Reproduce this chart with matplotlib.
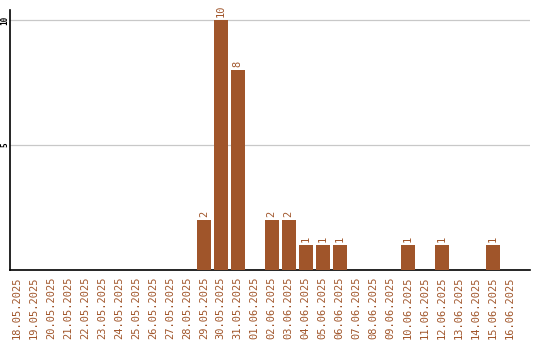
import matplotlib
matplotlib.use("Agg")
import matplotlib.pyplot as plt
import numpy as np

# Daily counts, 18.05.2025 - 16.06.2025
dates = [
    "18.05.2025", "19.05.2025", "20.05.2025", "21.05.2025", "22.05.2025",
    "23.05.2025", "24.05.2025", "25.05.2025", "26.05.2025", "27.05.2025",
    "28.05.2025", "29.05.2025", "30.05.2025", "31.05.2025", "01.06.2025",
    "02.06.2025", "03.06.2025", "04.06.2025", "05.06.2025", "06.06.2025",
    "07.06.2025", "08.06.2025", "09.06.2025", "10.06.2025", "11.06.2025",
    "12.06.2025", "13.06.2025", "14.06.2025", "15.06.2025", "16.06.2025",
]
counts = [0, 0, 0, 0, 0, 0, 0, 0, 0, 0, 0, 2, 10, 8, 0,
          2, 2, 1, 1, 1, 0, 0, 0, 1, 0, 1, 0, 0, 1, 0]
y_ticks = [5, 10]

color = "#a0552a"
mono = "DejaVu Sans Mono"

fig = plt.figure(figsize=(5.4, 3.4), dpi=100)
ax = fig.add_axes([0.0194, 0.206, 0.962, 0.764])

x = np.arange(len(dates))
ax.bar(x, counts, width=0.82, color=color, zorder=3)

# value labels above non-zero bars
for xi, c in zip(x, counts):
    if c > 0:
        ax.text(xi, c + 0.12, str(c), rotation=90, ha="center", va="bottom",
                color=color, fontsize=7.5, family=mono)

ax.set_xlim(-0.38, 30.2)
ax.set_ylim(0, 10.4)
ax.set_xticks(x)
ax.set_xticklabels(dates, rotation=90, color=color, fontsize=7.5, family=mono)
ax.set_yticks(y_ticks)
ax.set_yticklabels([str(t) for t in y_ticks], rotation=90, fontsize=5.5,
                   family=mono, weight="bold", ha="center", va="center")
ax.tick_params(axis="both", length=0)
ax.tick_params(axis="x", pad=5)
ax.tick_params(axis="y", pad=4)
ax.grid(axis="y", color="#c8c8c8", linewidth=0.9, zorder=0)
for s in ["top", "right"]:
    ax.spines[s].set_visible(False)
ax.spines["left"].set_linewidth(1.2)
ax.spines["bottom"].set_linewidth(1.2)

fig.savefig("out.png", dpi=100)
